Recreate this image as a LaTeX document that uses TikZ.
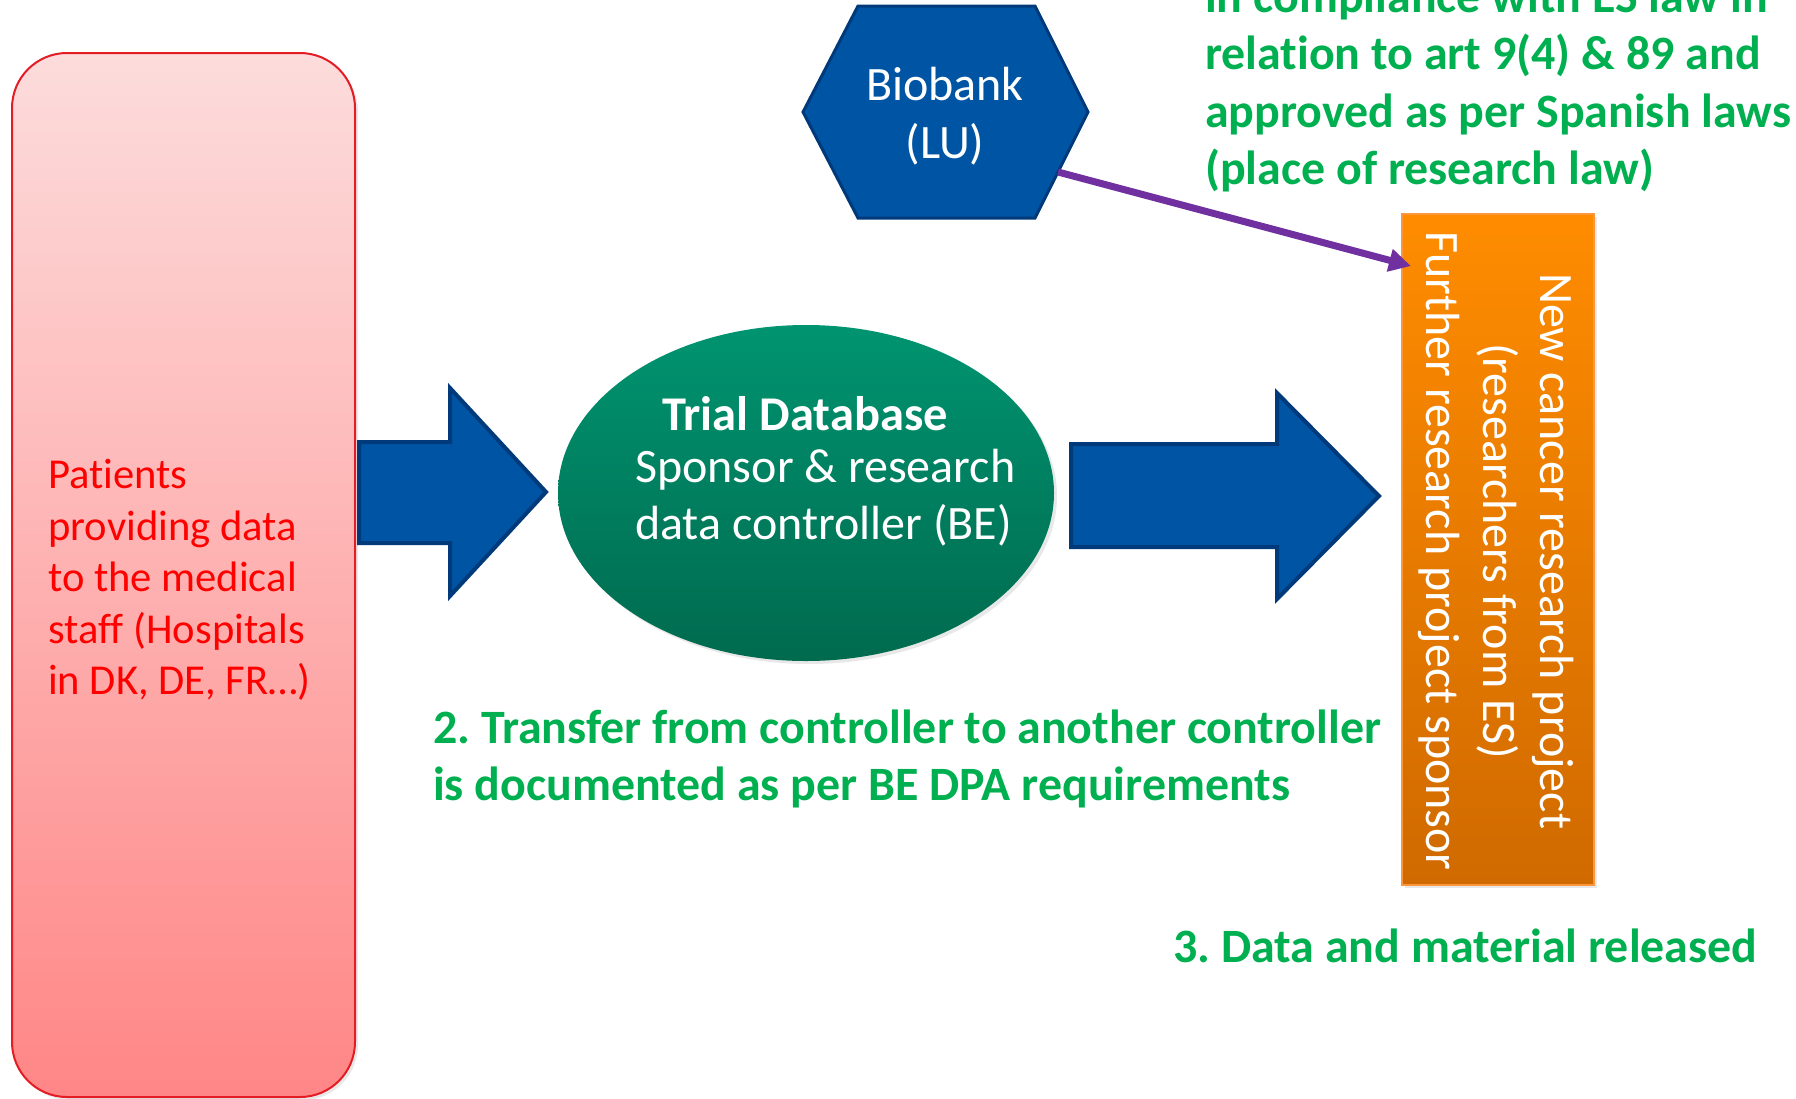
\documentclass[tikz,border=0pt]{standalone}
\usepackage{fontspec}
\setmainfont{Carlito}[Ligatures={NoCommon}]
\usetikzlibrary{shapes.geometric,arrows.meta,shadows}
\definecolor{hexblue}{RGB}{0,84,164}
\definecolor{hexedge}{RGB}{0,58,122}
\definecolor{pptgreen}{RGB}{0,176,80}
\definecolor{pptred}{RGB}{255,0,0}
\definecolor{pinktop}{RGB}{253,220,220}
\definecolor{pinkbot}{RGB}{255,134,134}
\definecolor{pinkedge}{RGB}{228,28,36}
\definecolor{orangetop}{RGB}{255,140,0}
\definecolor{orangebot}{RGB}{208,106,0}
\definecolor{orangeedge}{RGB}{250,150,60}
\definecolor{tealtop}{RGB}{0,148,112}
\definecolor{tealbot}{RGB}{0,106,78}
\definecolor{purplearrow}{RGB}{112,48,160}
\tikzset{
  redfont/.style={font=\fontsize{42.6}{51.5}\selectfont},
  greentext/.style={text=pptgreen, inner sep=0pt, align=left, font=\fontsize{47.9}{57.3}\selectfont\bfseries},
  blockarrow/.style={fill=hexblue, draw=hexedge, line width=4pt, line join=miter},
  softshadow/.style={drop shadow={opacity=0.18, shadow xshift=3pt, shadow yshift=-3pt}},
}
\begin{document}
\frenchspacing
\begin{tikzpicture}[x=1pt,y=-1pt]
\useasboundingbox (0,0) rectangle (1796,1098);
\clip (0,0) rectangle (1796,1098);

% left patients box
\node[softshadow, draw=pinkedge, line width=2pt, rounded corners=55pt, top color=pinktop, bottom color=pinkbot,
      minimum width=343pt, minimum height=1044pt, inner sep=0pt]
  (patients) at (183.5,575) {};
\node[redfont, text=pptred, align=left, inner sep=0pt, anchor=west] (patientstext) at (48,580)
  {Patients\\providing data\\to the medical\\staff (Hospitals\\in DK, DE, FR…)};

% hexagon biobank
\draw[fill=hexblue, draw=hexedge, line width=3pt, line join=miter]
  (803,112) -- (858,6) -- (1035,6) -- (1088,112) -- (1035,218) -- (858,218) -- cycle;
\node[font=\fontsize{48}{58.4}\selectfont, text=white, align=center, inner sep=0pt] (bio) at (945,116) {Biobank\\(LU)};

% block arrows
\draw[blockarrow] (359,442) -- (450,442) -- (450,388) -- (546,492) -- (450,596) -- (450,543) -- (359,543) -- cycle;
\draw[blockarrow] (1071,444) -- (1277,444) -- (1277,393) -- (1379,496) -- (1277,599) -- (1277,547) -- (1071,547) -- cycle;

% ellipse trial database
\node[softshadow, ellipse, top color=tealtop, bottom color=tealbot, draw=none, minimum width=496pt, minimum height=336pt]
  (db) at (806,493) {};
\node[text=white, inner sep=0pt, font=\fontsize{48.5}{57.3}\selectfont\bfseries] (dbtitle) at (805,414) {Trial Database};
\node[text=white, inner sep=0pt, align=left, anchor=west, font=\fontsize{48}{57.3}\selectfont] (dbbody) at (635,498) {Sponsor \& research\\data controller (BE)};

% orange research box
\node[softshadow, draw=orangeedge, line width=2pt, top color=orangetop, bottom color=orangebot,
      minimum width=192pt, minimum height=671pt, inner sep=0pt] (res) at (1498,549.5) {};
\node[font=\fontsize{48}{57.3}\selectfont, text=white, align=center, inner sep=0pt, rotate=-90] (restext) at (1496,551)
  {New cancer research project\\(researchers from ES)\\Further research project sponsor};

% purple arrow
\coordinate (hexSE) at (1058,172);
\coordinate (resIn) at (1411,266);
\draw[purplearrow, line width=7pt, -{Triangle[length=22pt,width=22pt]}] (hexSE) -- (resIn);

% green texts
\node[greentext, anchor=west] (lawtext) at (1205,85.5)
  {in compliance with ES law in\\relation to art 9(4) \& 89 and\\approved as per Spanish laws\\(place of research law)};
\node[greentext, anchor=west] (transfer) at (433,759)
  {2. Transfer from controller to another controller\\is documented as per BE DPA requirements};
\node[greentext, anchor=west] (released) at (1173,946) {3. Data and material released};
\end{tikzpicture}
\end{document}
